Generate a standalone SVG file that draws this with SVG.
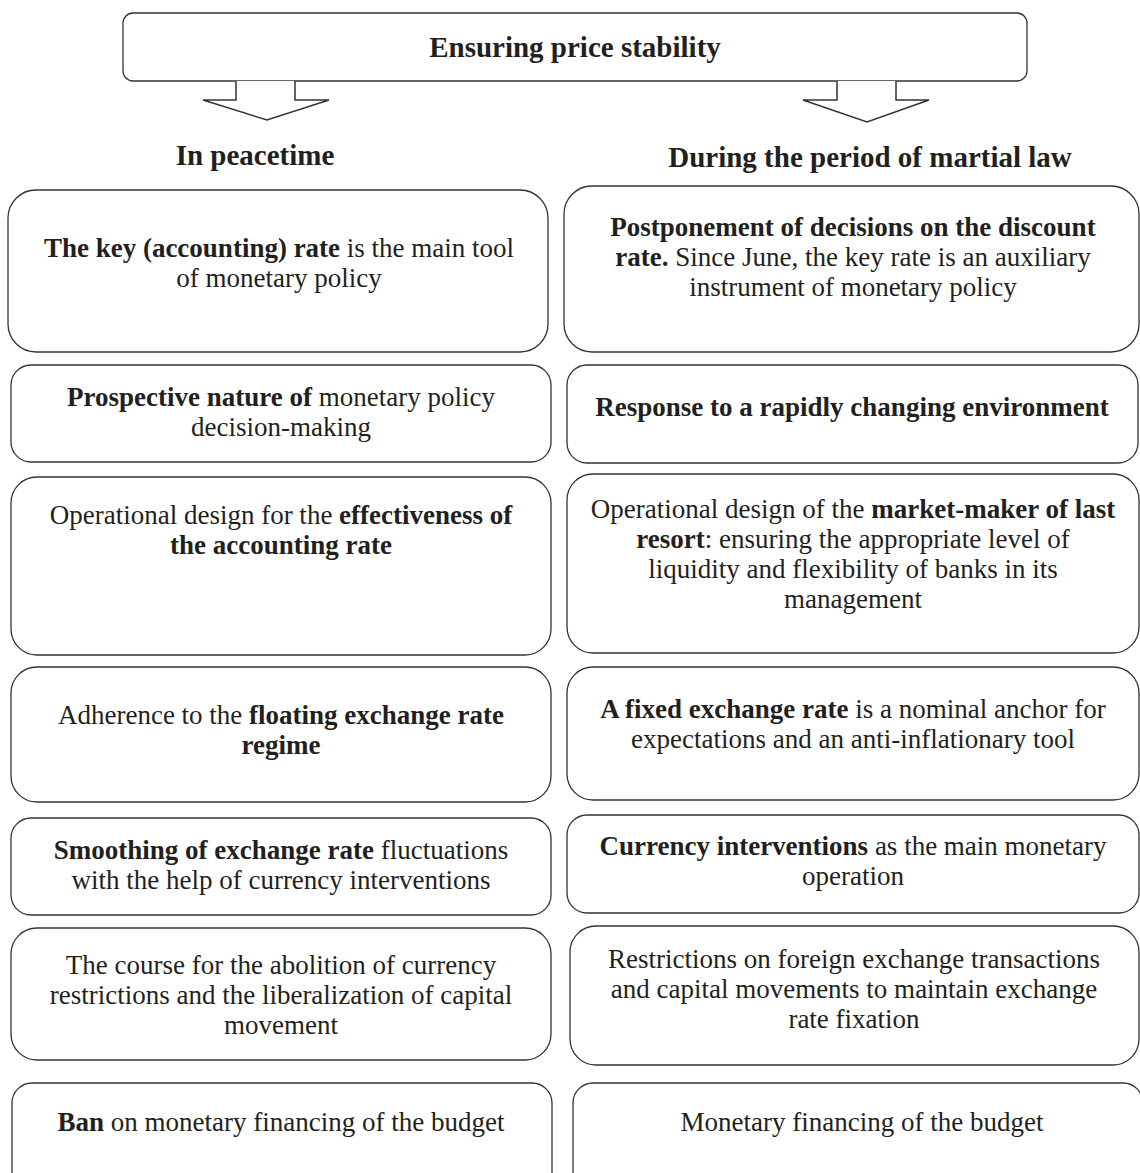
<svg xmlns="http://www.w3.org/2000/svg" width="1140" height="1173" viewBox="0 0 1140 1173">
<style>
.box{fill:#fff;stroke:#333;stroke-width:1.3}
.arr{fill:#fff;stroke:#333;stroke-width:1.5;stroke-linejoin:miter}
text{font-family:"Liberation Serif","Times New Roman",serif;fill:#231f20;text-anchor:middle}
.t{font-size:27px}
.h{font-size:29px;font-weight:bold}
.b{font-weight:bold}
</style>
<rect width="1140" height="1173" fill="#fff"/>
<g id="top">
<rect class="box" x="123" y="13" width="904" height="68" rx="10"/>
<text class="h" x="575" y="57">Ensuring price stability</text>
</g>
<g id="connectors">
<polyline class="arr" points="236,81 236,100 203,100 267,120 329,100 295,100 295,81"/>
<polyline class="arr" points="837,81 837,100 803,100 867,122 929,100 896,100 896,81"/>
</g>
<g id="head-left"><text class="h" x="255" y="165">In peacetime</text></g>
<g id="head-right"><text class="h" x="870" y="167">During the period of martial law</text></g>

<g id="L1">
<rect class="box" x="8" y="190" width="540" height="162" rx="28"/>
<text class="t" x="279" y="257"><tspan class="b">The key (accounting) rate</tspan> is the main tool</text>
<text class="t" x="279" y="287">of monetary policy</text>
</g>
<g id="L2">
<rect class="box" x="11" y="365" width="540" height="97" rx="20"/>
<text class="t" x="281" y="406"><tspan class="b">Prospective nature of</tspan> monetary policy</text>
<text class="t" x="281" y="436">decision-making</text>
</g>
<g id="L3">
<rect class="box" x="11" y="477" width="540" height="178" rx="26"/>
<text class="t" x="281" y="524">Operational design for the <tspan class="b">effectiveness of</tspan></text>
<text class="t b" x="281" y="554">the accounting rate</text>
</g>
<g id="L4">
<rect class="box" x="11" y="667" width="540" height="135" rx="26"/>
<text class="t" x="281" y="724">Adherence to the <tspan class="b">floating exchange rate</tspan></text>
<text class="t b" x="281" y="754">regime</text>
</g>
<g id="L5">
<rect class="box" x="11" y="818" width="540" height="97" rx="20"/>
<text class="t" x="281" y="859"><tspan class="b">Smoothing of exchange rate</tspan> fluctuations</text>
<text class="t" x="281" y="889">with the help of currency interventions</text>
</g>
<g id="L6">
<rect class="box" x="11" y="928" width="540" height="132" rx="26"/>
<text class="t" x="281" y="974">The course for the abolition of currency</text>
<text class="t" x="281" y="1004">restrictions and the liberalization of capital</text>
<text class="t" x="281" y="1034">movement</text>
</g>
<g id="L7">
<rect class="box" x="12" y="1083" width="540" height="110" rx="20"/>
<text class="t" x="281" y="1131"><tspan class="b">Ban</tspan> on monetary financing of the budget</text>
</g>

<g id="R1">
<rect class="box" x="564" y="186" width="575" height="166" rx="28"/>
<text class="t b" x="853" y="236">Postponement of decisions on the discount</text>
<text class="t" x="853" y="266"><tspan class="b">rate.</tspan> Since June, the key rate is an auxiliary</text>
<text class="t" x="853" y="296">instrument of monetary policy</text>
</g>
<g id="R2">
<rect class="box" x="567" y="365" width="571" height="98" rx="20"/>
<text class="t b" x="852" y="416">Response to a rapidly changing environment</text>
</g>
<g id="R3">
<rect class="box" x="567" y="474" width="572" height="179" rx="26"/>
<text class="t" x="853" y="518">Operational design of the <tspan class="b">market-maker of last</tspan></text>
<text class="t" x="853" y="548"><tspan class="b">resort</tspan>: ensuring the appropriate level of</text>
<text class="t" x="853" y="578">liquidity and flexibility of banks in its</text>
<text class="t" x="853" y="608">management</text>
</g>
<g id="R4">
<rect class="box" x="567" y="667" width="572" height="133" rx="26"/>
<text class="t" x="853" y="718"><tspan class="b">A fixed exchange rate</tspan> is a nominal anchor for</text>
<text class="t" x="853" y="748">expectations and an anti-inflationary tool</text>
</g>
<g id="R5">
<rect class="box" x="567" y="815" width="572" height="98" rx="20"/>
<text class="t" x="853" y="855"><tspan class="b">Currency interventions</tspan> as the main monetary</text>
<text class="t" x="853" y="885">operation</text>
</g>
<g id="R6">
<rect class="box" x="570" y="926" width="569" height="139" rx="26"/>
<text class="t" x="854" y="968">Restrictions on foreign exchange transactions</text>
<text class="t" x="854" y="998">and capital movements to maintain exchange</text>
<text class="t" x="854" y="1028">rate fixation</text>
</g>
<g id="R7">
<rect class="box" x="573" y="1083" width="570" height="110" rx="20"/>
<text class="t" x="862" y="1131">Monetary financing of the budget</text>
</g>
</svg>
